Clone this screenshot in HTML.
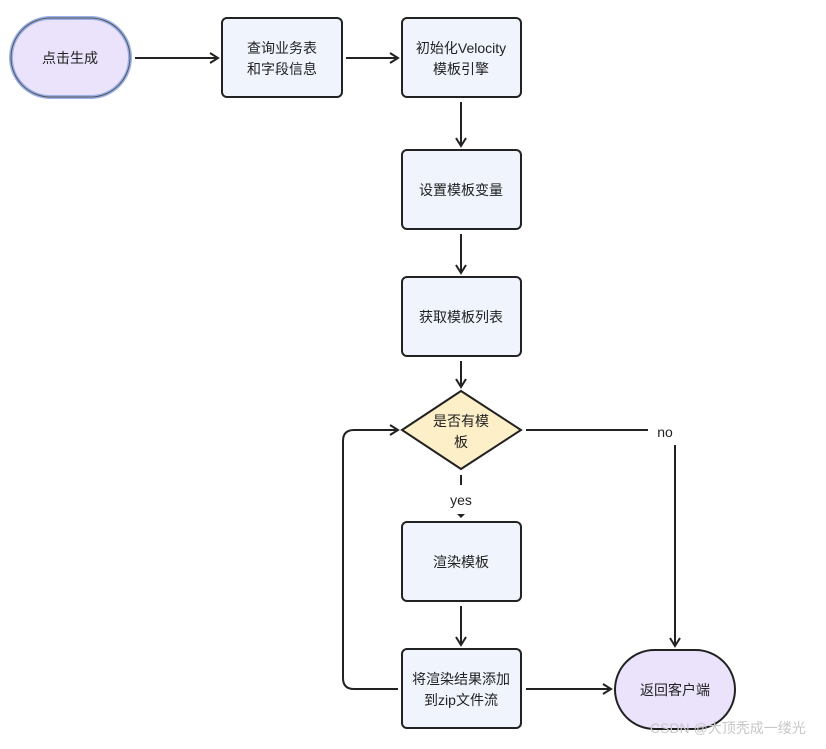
<!DOCTYPE html>
<html><head><meta charset="utf-8"><style>
body{margin:0;background:#fff;width:826px;height:744px;overflow:hidden}
text{font-family:"Liberation Sans","Noto Sans CJK SC",sans-serif;font-size:14px;fill:#222}
</style></head><body>
<svg width="826" height="744" viewBox="0 0 826 744">
<defs><marker id="a" markerWidth="12" markerHeight="12" refX="10" refY="6" orient="auto" markerUnits="userSpaceOnUse"><path d="M2,1 L10,6 L2,11" fill="none" stroke="#222" stroke-width="2"/></marker></defs>
<g stroke="#222" stroke-width="2" fill="none">
<rect x="11" y="18" width="119" height="79" rx="39.5" fill="#ebe3fb" stroke="#9ab0e8" stroke-width="4"/>
<rect x="11" y="18" width="119" height="79" rx="39.5" stroke="#555" stroke-width="1"/>
<rect x="222" y="18" width="120" height="79" rx="5" fill="#eff4fd"/>
<rect x="402" y="18" width="119" height="79" rx="5" fill="#eff4fd"/>
<rect x="402" y="150" width="119" height="79" rx="5" fill="#eff4fd"/>
<rect x="402" y="277" width="119" height="79" rx="5" fill="#eff4fd"/>
<polygon points="402,430 461,391 521,430 461,469" fill="#fdefc8"/>
<rect x="402" y="522" width="119" height="79" rx="5" fill="#eff4fd"/>
<rect x="402" y="649" width="119" height="79" rx="5" fill="#eff4fd"/>
<rect x="615" y="650" width="120" height="79" rx="39.5" fill="#ebe3fb"/>
<line x1="135" y1="58" x2="218" y2="58" marker-end="url(#a)"/>
<line x1="346" y1="58" x2="398" y2="58" marker-end="url(#a)"/>
<line x1="461" y1="102" x2="461" y2="146" marker-end="url(#a)"/>
<line x1="461" y1="234" x2="461" y2="273" marker-end="url(#a)"/>
<line x1="461" y1="361" x2="461" y2="387" marker-end="url(#a)"/>
<line x1="461" y1="475" x2="461" y2="485"/>
<line x1="461" y1="606" x2="461" y2="645" marker-end="url(#a)"/>
<line x1="526" y1="430" x2="648" y2="430"/>
<line x1="675" y1="445" x2="675" y2="646" marker-end="url(#a)"/>
<line x1="526" y1="689" x2="611" y2="689" marker-end="url(#a)"/>
<path d="M398,689 H354 Q343,689 343,678 V441 Q343,430 354,430 H398" marker-end="url(#a)"/>
</g>
<path d="M457,514 L461,518 L465,514 Z" fill="#222"/>
<g text-anchor="middle">
<text x="70" y="63">点击生成</text>
<text x="282" y="53">查询业务表</text><text x="282" y="74">和字段信息</text>
<text x="461" y="53">初始化Velocity</text><text x="461" y="74">模板引擎</text>
<text x="461" y="195">设置模板变量</text>
<text x="461" y="322">获取模板列表</text>
<text x="461" y="426">是否有模</text><text x="461" y="447">板</text>
<text x="461" y="505">yes</text>
<text x="665" y="437">no</text>
<text x="461" y="567">渲染模板</text>
<text x="461" y="684">将渲染结果添加</text><text x="461" y="705">到zip文件流</text>
<text x="675" y="695">返回客户端</text>
</g>
<text x="650" y="733" style="fill:#c8c8c8;font-size:14px">CSDN @大顶秃成一缕光</text>
</svg>
</body></html>
